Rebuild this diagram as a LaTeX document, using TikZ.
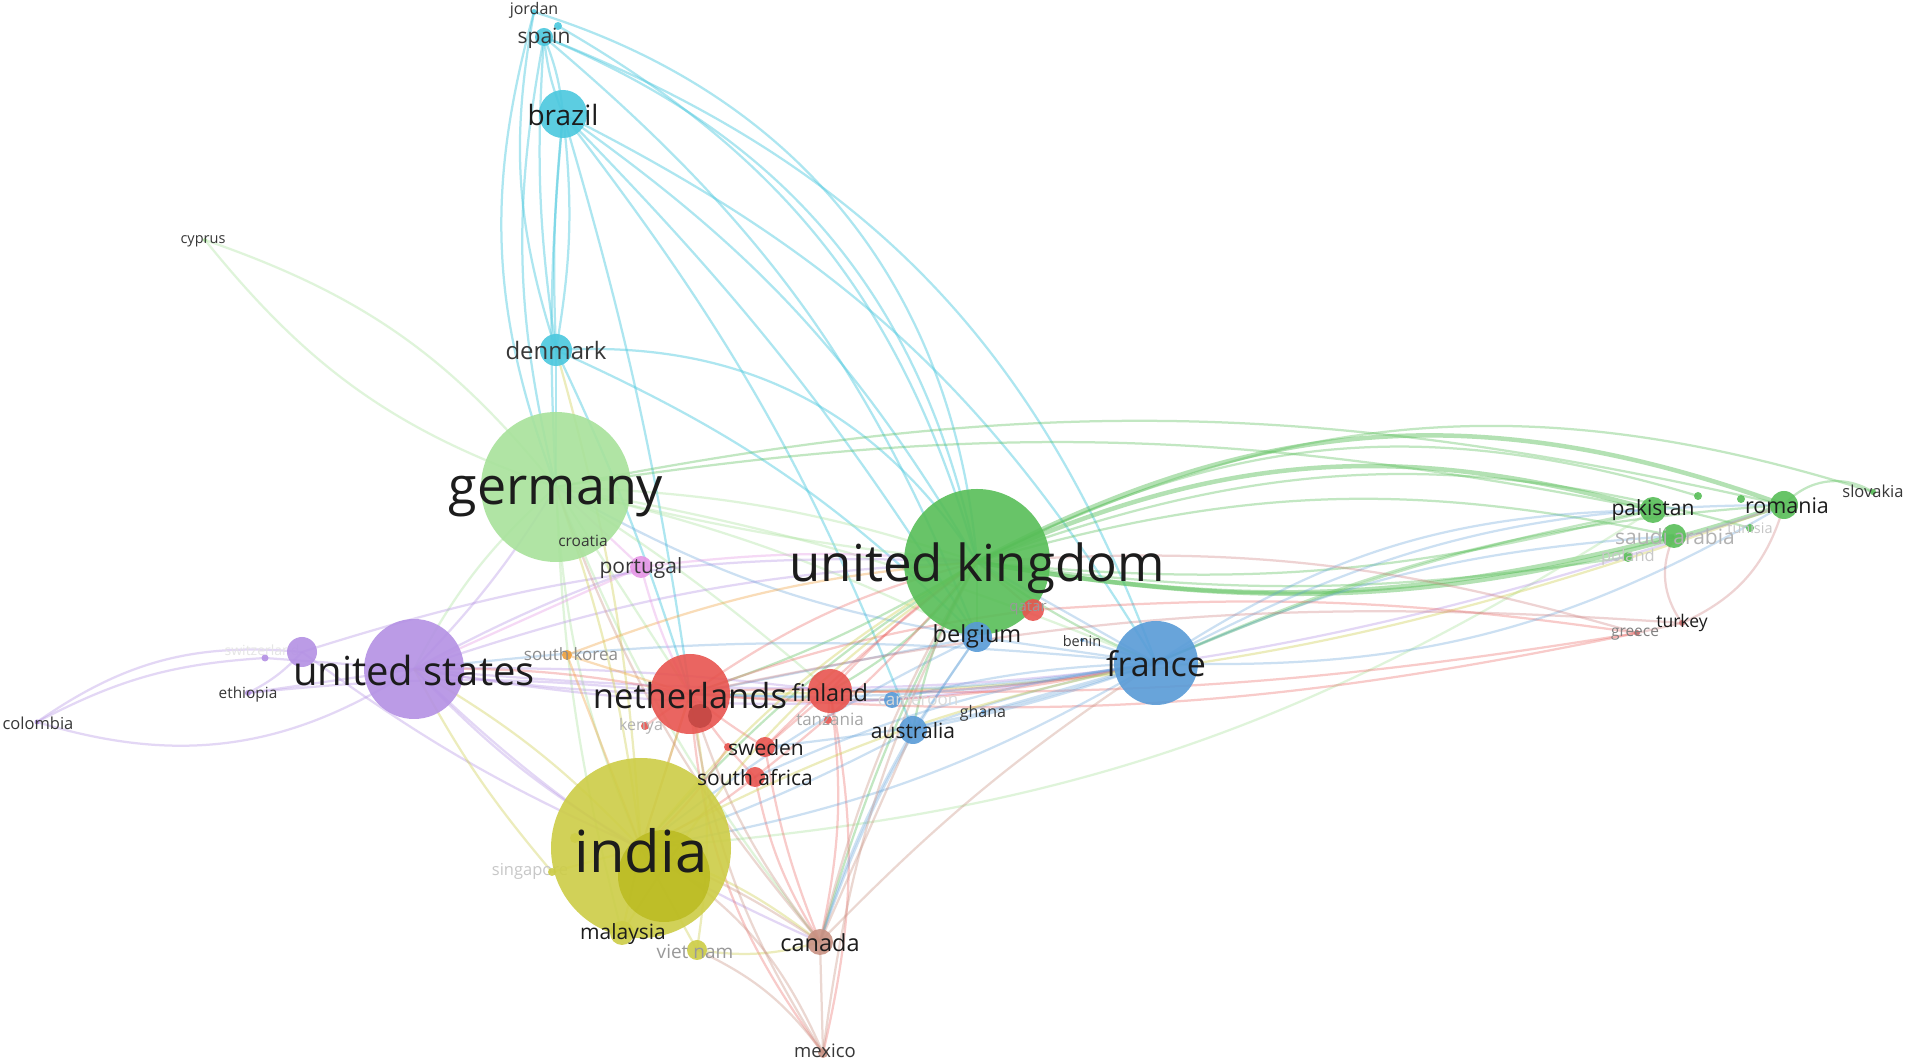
\documentclass[tikz,border=0pt]{standalone}
\usepackage{fontspec}
\setmainfont{Open Sans}
\definecolor{cCy}{RGB}{75,200,222}
\definecolor{cGr}{RGB}{88,190,88}
\definecolor{cLg}{RGB}{168,226,155}
\definecolor{cPu}{RGB}{180,145,228}
\definecolor{cRe}{RGB}{232,85,80}
\definecolor{cBl}{RGB}{88,155,215}
\definecolor{cYe}{RGB}{205,205,70}
\definecolor{cYd}{RGB}{188,188,35}
\definecolor{cBr}{RGB}{200,145,130}
\definecolor{cOr}{RGB}{240,160,60}
\definecolor{cPk}{RGB}{230,150,230}
\definecolor{cDr}{RGB}{200,110,110}
\definecolor{labc}{RGB}{28,28,28}
\definecolor{labm}{RGB}{55,55,55}
\pgfdeclarelayer{bg}
\pgfsetlayers{bg,main}
\newcommand{\edg}[4][0]{\draw[#2] (#3.center) to[bend left=#1] (#4.center);}
\newcommand{\nd}[5]{\node[dot,minimum size=#4*0.4pt,fill=#5] (#1) at (#2,#3) {};}
\newcommand{\fsz}[1]{\fontsize{\fpeval{#1*0.4}}{\fpeval{#1*0.4}}\selectfont}
\tikzset{
 dot/.style={circle,inner sep=0pt,draw=none,fill opacity=0.9},
 ebase/.style={line width=0.9pt,draw opacity=0.36},
 ecy/.style={ebase,draw=cCy,draw opacity=0.45},
 eg/.style={ebase,draw=cGr},
 egt/.style={ebase,draw=cGr,line width=1.8pt,draw opacity=0.45},
 elg/.style={ebase,draw=cLg},
 epu/.style={ebase,draw=cPu},
 ere/.style={ebase,draw=cRe,draw opacity=0.3},
 ebl/.style={ebase,draw=cBl,draw opacity=0.3},
 eye/.style={ebase,draw=cYe},
 ebr/.style={ebase,draw=cBr},
 eor/.style={ebase,draw=cOr},
 epk/.style={ebase,draw=cPk},
 edr/.style={ebase,draw=cDr,draw opacity=0.3},
 lbl/.style={inner sep=0pt,text=labc},
 lblm/.style={inner sep=0pt,text=labm},
}
\begin{document}
\begin{tikzpicture}[x=0.4pt,y=-0.4pt]
\begin{pgfonlayer}{bg}
\fill[white] (0,0) rectangle (1908,1063);
\end{pgfonlayer}
\useasboundingbox (0,0) rectangle (1908,1063);
% ---------- nodes ----------
\nd{spain}{544}{37}{18}{cCy}
\nd{jordan}{534}{12}{6}{cCy}
\nd{jdot}{558}{26}{8}{cCy}
\nd{brazil}{563}{114}{48}{cCy}
\nd{denmark}{556}{350}{32}{cCy}
\nd{cyprus}{205}{240}{4}{cLg}
\nd{germany}{556}{487}{150}{cLg}
\nd{croatia}{583}{540}{6}{cLg}
\nd{portugal}{641}{567}{22}{cPk}
\nd{usa}{414}{669}{100}{cPu}
\nd{pbig}{302}{652}{30}{cPu}
\nd{swiss}{265}{658}{7}{cPu}
\nd{ethiopia}{248}{693}{6}{cPu}
\nd{colombia}{37}{722}{5}{cPu}
\nd{skorea}{567}{655}{10}{cOr}
\nd{nl}{690}{694}{80}{cRe}
\nd{nlin}{700}{716}{24}{cRe!85!black}
\nd{kenya}{645}{726}{8}{cRe}
\nd{finland}{830}{691}{44}{cRe}
\nd{tanzania}{828}{720}{8}{cRe}
\nd{cameroon}{892}{700}{16}{cBl}
\nd{australia}{913}{730}{28}{cBl}
\nd{ghana}{983}{712}{4}{cBl}
\nd{sweden}{765}{747}{20}{cRe}
\nd{swdot}{728}{747}{8}{cRe}
\nd{safrica}{755}{777}{20}{cRe}
\nd{india}{641}{848}{180}{cYe}
\nd{indin}{664}{876}{92}{cYd}
\nd{sgdot}{575}{838}{10}{cYe}
\nd{singapore}{552}{872}{8}{cYe}
\nd{malaysia}{622}{933}{24}{cYe}
\nd{vietnam}{697}{950}{20}{cYe}
\nd{canada}{820}{942}{26}{cBr}
\nd{mexico}{823}{1053}{10}{cBr}
\nd{uk}{977}{562}{146}{cGr}
\nd{qatar}{1033}{610}{22}{cRe}
\nd{belgium}{977}{637}{30}{cBl}
\nd{benin}{1082}{640}{4}{cBl}
\nd{france}{1156}{663}{84}{cBl}
\nd{pakistan}{1653}{510}{26}{cGr}
\nd{saudi}{1674}{536}{24}{cGr}
\nd{romania}{1784}{505}{28}{cGr}
\nd{slovakia}{1873}{492}{6}{cGr}
\nd{tunisia}{1750}{528}{8}{cGr}
\nd{poland}{1628}{557}{10}{cGr}
\nd{gdot1}{1698}{496}{8}{cGr}
\nd{gdot2}{1741}{499}{8}{cGr}
\nd{turkey}{1682}{623}{6}{cDr}
\nd{greece}{1637}{633}{6}{cDr}
% ---------- edges ----------
\begin{pgfonlayer}{bg}
% cyan
\edg[28]{ecy}{spain}{uk}
\edg[34]{ecy}{jordan}{uk}
\edg[24]{ecy}{spain}{france}
\edg[22]{ecy}{jdot}{uk}
\edg[12]{ecy}{brazil}{uk}
\edg[6]{ecy}{brazil}{belgium}
\edg[14]{ecy}{spain}{belgium}
\edg[8]{ecy}{spain}{brazil}
\edg[-8]{ecy}{spain}{brazil}
\edg[-6]{ecy}{spain}{denmark}
\edg[-14]{ecy}{jordan}{denmark}
\edg[8]{ecy}{brazil}{denmark}
\edg[-4]{ecy}{brazil}{denmark}
\edg[-12]{ecy}{spain}{germany}
\edg[-18]{ecy}{jordan}{germany}
\edg[30]{ecy}{denmark}{uk}
\edg[4]{ecy}{brazil}{nl}
\edg[8]{ecy}{brazil}{australia}
\edg[-4]{ecy}{brazil}{germany}
\edg[16]{ecy}{brazil}{france}
\edg[0]{ecy}{denmark}{germany}
\edg[4]{ecy}{denmark}{nl}
\edg[10]{ecy}{denmark}{belgium}
% green
\edg[24]{egt}{uk}{romania}
\edg[-14]{egt}{uk}{romania}
\edg[20]{egt}{uk}{pakistan}
\edg[-10]{eg}{uk}{pakistan}
\edg[14]{eg}{uk}{saudi}
\edg[-12]{egt}{uk}{saudi}
\edg[22]{eg}{uk}{slovakia}
\edg[-8]{eg}{uk}{poland}
\edg[18]{eg}{uk}{tunisia}
\edg[22]{eg}{uk}{gdot1}
\edg[10]{eg}{germany}{pakistan}
\edg[12]{eg}{germany}{romania}
\edg[-6]{eg}{uk}{france}
\edg[-8]{eg}{uk}{india}
\edg[6]{eg}{uk}{nl}
\edg[-6]{eg}{uk}{canada}
\edg[10]{eg}{france}{romania}
\edg[6]{eg}{france}{pakistan}
\edg[14]{elg}{pakistan}{india}
\edg[10]{eye}{romania}{nl}
\edg[40]{eg}{romania}{slovakia}
\edg[12]{eg}{uk}{finland}
\edg[0]{eg}{uk}{belgium}
\edg[-10]{eg}{uk}{australia}
% light green
\edg[-16]{elg}{cyprus}{germany}
\edg[16]{elg}{cyprus}{germany}
\edg[-10]{elg}{germany}{usa}
\edg[-10]{elg}{germany}{india}
\edg[0]{elg}{germany}{nl}
\edg[8]{elg}{germany}{uk}
\edg[-4]{elg}{germany}{uk}
\edg[6]{elg}{germany}{france}
\edg[4]{elg}{germany}{finland}
\edg[-8]{elg}{germany}{canada}
\edg[6]{elg}{germany}{belgium}
\edg[-6]{elg}{germany}{malaysia}
% purple
\edg[-25]{epu}{colombia}{usa}
\edg[20]{epu}{colombia}{pbig}
\edg[12]{epu}{colombia}{swiss}
\edg[0]{epu}{ethiopia}{usa}
\edg[0]{epu}{swiss}{usa}
\edg[-10]{epu}{ethiopia}{pbig}
\edg[8]{epu}{usa}{uk}
\edg[-6]{epu}{usa}{germany}
\edg[-8]{epu}{usa}{india}
\edg[-4]{epu}{usa}{nl}
\edg[-10]{epu}{usa}{france}
\edg[-12]{epu}{usa}{romania}
\edg[-10]{epu}{usa}{canada}
\edg[4]{epu}{usa}{finland}
\edg[4]{epu}{usa}{portugal}
\edg[10]{epu}{pbig}{uk}
\edg[-6]{epu}{pbig}{india}
\edg[6]{epu}{ethiopia}{nl}
% red
\edg[4]{ere}{nl}{finland}
\edg[-4]{ere}{nl}{sweden}
\edg[-6]{ere}{nl}{safrica}
\edg[10]{ere}{nl}{uk}
\edg[0]{ere}{nl}{india}
\edg[-8]{ere}{nl}{france}
\edg[0]{ere}{finland}{sweden}
\edg[0]{ere}{finland}{tanzania}
\edg[6]{ere}{finland}{uk}
\edg[-6]{ere}{finland}{france}
\edg[-10]{ere}{safrica}{canada}
\edg[-16]{ere}{nl}{mexico}
\edg[-6]{ere}{sweden}{canada}
\edg[-8]{ere}{nl}{greece}
\edg[0]{ere}{qatar}{uk}
\edg[-6]{ere}{qatar}{nl}
\edg[-6]{ere}{safrica}{uk}
\edg[0]{ere}{kenya}{nl}
\edg[10]{ere}{finland}{canada}
\edg[-6]{ere}{nl}{usa}
\edg[4]{ere}{sweden}{uk}
\edg[-5]{ere}{finland}{greece}
\edg[6]{ere}{safrica}{india}
\edg[-12]{ere}{mexico}{finland}
\edg[6]{ere}{qatar}{greece}
\edg[8]{ere}{swdot}{india}
% blue
\edg[0]{ebl}{france}{belgium}
\edg[4]{ebl}{france}{australia}
\edg[-4]{ebl}{france}{australia}
\edg[0]{ebl}{france}{ghana}
\edg[-6]{ebl}{france}{cameroon}
\edg[0]{ebl}{france}{benin}
\edg[6]{ebl}{france}{nl}
\edg[10]{ebl}{france}{india}
\edg[-6]{ebl}{france}{usa}
\edg[14]{ebl}{france}{romania}
\edg[16]{ebl}{france}{pakistan}
\edg[-16]{ebl}{france}{romania}
\edg[0]{ebl}{france}{uk}
\edg[0]{ebl}{belgium}{australia}
\edg[0]{ebl}{belgium}{nl}
\edg[-6]{ebl}{australia}{canada}
\edg[4]{ebl}{australia}{india}
\edg[-6]{ebl}{belgium}{india}
\edg[0]{ebl}{cameroon}{nl}
\edg[4]{ebl}{france}{finland}
\edg[6]{ebl}{france}{sweden}
\edg[-8]{ebl}{france}{safrica}
\edg[10]{ebl}{belgium}{germany}
\edg[-8]{ebl}{belgium}{canada}
\edg[10]{ebl}{france}{saudi}
% yellow
\edg[0]{eye}{india}{malaysia}
\edg[0]{eye}{india}{vietnam}
\edg[0]{eye}{india}{singapore}
\edg[-6]{eye}{india}{germany}
\edg[10]{eye}{india}{uk}
\edg[-8]{eye}{india}{usa}
\edg[0]{eye}{india}{nl}
\edg[10]{eye}{india}{canada}
\edg[-12]{eye}{vietnam}{canada}
\edg[-6]{eye}{india}{denmark}
\edg[8]{eye}{india}{france}
\edg[12]{eye}{malaysia}{uk}
\edg[-10]{eye}{vietnam}{nl}
\edg[6]{eye}{singapore}{usa}
% brown
\edg[0]{ebr}{canada}{mexico}
\edg[-6]{ebr}{canada}{india}
\edg[8]{ebr}{canada}{uk}
\edg[10]{ebr}{canada}{nl}
\edg[12]{ebr}{mexico}{nl}
\edg[6]{ebr}{canada}{france}
\edg[10]{ebr}{canada}{germany}
\edg[-18]{ebr}{mexico}{india}
\edg[0]{ebr}{canada}{australia}
\edg[10]{ebr}{mexico}{uk}
\edg[14]{ebr}{vietnam}{mexico}
% orange
\edg[0]{eor}{skorea}{india}
\edg[8]{eor}{skorea}{uk}
\edg[0]{eor}{skorea}{nl}
% pink
\edg[6]{epk}{portugal}{uk}
\edg[0]{epk}{portugal}{germany}
\edg[0]{epk}{portugal}{usa}
\edg[-6]{epk}{portugal}{nl}
% dark red
\edg[0]{edr}{turkey}{greece}
\edg[-8]{edr}{turkey}{nl}
\edg[30]{edr}{turkey}{saudi}
\edg[-25]{edr}{turkey}{romania}
\edg[-10]{edr}{greece}{uk}
% faint labels partly hidden under circles
\node[text=black!10,inner sep=0pt,font=\fsz{14}] (l-swiss) at (262,650) {switzerland};
\node[text=black!22,inner sep=0pt,font=\fsz{16.5}] (l-singapore) at (530,871) {singapore};
\end{pgfonlayer}
% ---------- labels ----------
\node[lblm,font=\fsz{16}] (l-jordan) at (534,10) {jordan};
\node[lblm,font=\fsz{21}] (l-spain) at (544,38) {spain};
\node[lbl,font=\fsz{28}] (l-brazil) at (563,115) {brazil};
\node[lblm,font=\fsz{24}] (l-denmark) at (556,351) {denmark};
\node[lblm,font=\fsz{14.5}] (l-cyprus) at (203,241) {cyprus};
\node[lbl,font=\fsz{52}] (l-germany) at (556,497) {germany};
\node[lblm,font=\fsz{15.5}] (l-croatia) at (583,541) {croatia};
\node[lblm,font=\fsz{21}] (l-portugal) at (641,568) {portugal};
\node[lbl,font=\fsz{40}] (l-usa) at (414,671) {united states};
\node[lblm,font=\fsz{15.4}] (l-ethiopia) at (248,695) {ethiopia};
\node[lblm,font=\fsz{16.5}] (l-colombia) at (38,723) {colombia};
\node[text=black!45,inner sep=0pt,font=\fsz{17}] (l-skorea) at (571,654) {south korea};
\node[lbl,font=\fsz{34.5}] (l-nl) at (690,696) {netherlands};
\node[text=black!30,inner sep=0pt,font=\fsz{16}] (l-kenya) at (641,726) {kenya};
\node[lbl,font=\fsz{23.5}] (l-finland) at (830,693) {finland};
\node[text=black!35,inner sep=0pt,font=\fsz{17}] (l-tanzania) at (830,719) {tanzania};
\node[text=black!15,inner sep=0pt,font=\fsz{17}] (l-cameroon) at (918,701) {cameroon};
\node[lbl,font=\fsz{21}] (l-australia) at (913,731) {australia};
\node[lblm,font=\fsz{16}] (l-ghana) at (983,713) {ghana};
\node[lbl,font=\fsz{21}] (l-sweden) at (766,748) {sweden};
\node[lbl,font=\fsz{21}] (l-safrica) at (755,778) {south africa};
\node[lbl,font=\fsz{58}] (l-india) at (641,851) {india};
\node[lbl,font=\fsz{21}] (l-malaysia) at (623,934) {malaysia};
\node[text=black!40,inner sep=0pt,font=\fsz{19}] (l-vietnam) at (695,952) {viet nam};
\node[lbl,font=\fsz{23.5}] (l-canada) at (820,943) {canada};
\node[lblm,font=\fsz{18.5}] (l-mexico) at (825,1051) {mexico};
\node[lbl,font=\fsz{51}] (l-uk) at (977,568) {united kingdom};
\node[text=black!40,inner sep=0pt,font=\fsz{15}] (l-qatar) at (1028,608) {qatar};
\node[lbl,font=\fsz{23.5}] (l-belgium) at (977,636) {belgium};
\node[lblm,font=\fsz{14.5}] (l-benin) at (1082,641) {benin};
\node[lbl,font=\fsz{34}] (l-france) at (1156,664) {france};
\node[lbl,font=\fsz{21}] (l-pakistan) at (1653,510) {pakistan};
\node[text=black!30,inner sep=0pt,font=\fsz{21}] (l-saudi) at (1675,537) {saudi arabia};
\node[lbl,font=\fsz{21.5}] (l-romania) at (1787,506) {romania};
\node[lblm,font=\fsz{16.5}] (l-slovakia) at (1873,491) {slovakia};
\node[text=black!22,inner sep=0pt,font=\fsz{14.5}] (l-tunisia) at (1750,528) {tunisia};
\node[text=black!22,inner sep=0pt,font=\fsz{16.5}] (l-poland) at (1628,557) {poland};
\node[lbl,font=\fsz{17.5}] (l-turkey) at (1682,623) {turkey};
\node[text=black!50,inner sep=0pt,font=\fsz{15.5}] (l-greece) at (1635,634) {greece};
\end{tikzpicture}
\end{document}
